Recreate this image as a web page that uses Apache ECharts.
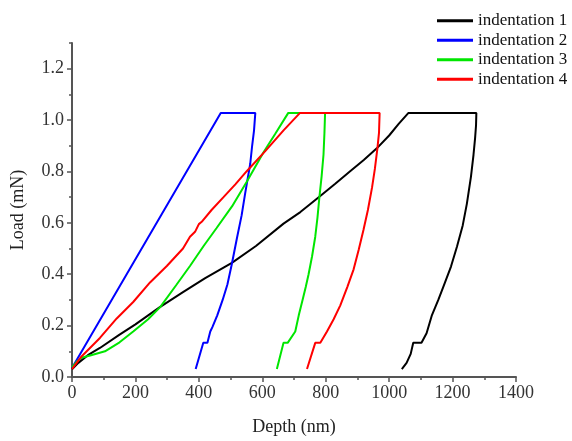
<!DOCTYPE html>
<html>
<head>
<meta charset="utf-8">
<script src="https://cdn.jsdelivr.net/npm/echarts@6/dist/echarts.min.js"></script>
<style>
html, body { margin: 0; padding: 0; background: #fff; }
#chart { width: 572px; height: 441px; }
</style>
</head>
<body>
<div id="chart"></div>
<script>
// depth (nm), load (mN)
var names = ['indentation 1', 'indentation 2', 'indentation 3', 'indentation 4']
var colors = ['#000000', '#0000ff', '#00e600', '#ff0000']

var ind1 = [[0,0.03],[20,0.055],[50,0.085],[88,0.113],[150,0.165],[200,0.205],[277,0.272],[350,0.33],[420,0.385],
  [504,0.444],[580,0.51],[667,0.597],[720,0.642],[777,0.699],[830,0.752],[877,0.801],[920,0.845],[961,0.89],
  [1000,0.94],[1030,0.985],[1061,1.028],[1275,1.028],[1274,0.98],[1271,0.93],[1266,0.865],[1258,0.78],
  [1245,0.674],[1232,0.59],[1214,0.508],[1195,0.43],[1172,0.355],[1155,0.3],[1135,0.241],[1118,0.17],
  [1102,0.133],[1076,0.133],[1068,0.09],[1055,0.055],[1040,0.031]]
var ind2 = [[0,0.035],[469,1.028],[578,1.028],[574,0.96],[568,0.9],[562,0.83],[546,0.715],[535,0.63],
  [520,0.54],[504,0.44],[490,0.36],[475,0.3],[458,0.24],[443,0.195],[436,0.177],[427,0.133],[414,0.133],
  [390,0.031]]
var ind3 = [[0,0.037],[15,0.06],[30,0.075],[60,0.085],[104,0.1],[150,0.135],[193,0.177],[240,0.225],
  [278,0.272],[330,0.36],[372,0.432],[415,0.51],[456,0.58],[505,0.665],[551,0.76],[604,0.875],[640,0.945],
  [682,1.028],[798,1.028],[796,0.95],[793,0.865],[787,0.78],[780,0.699],[774,0.62],[767,0.546],
  [757,0.47],[746,0.4],[737,0.35],[727,0.3],[715,0.24],[704,0.177],[680,0.133],[667,0.133],[646,0.031]]
var ind4 = [[0,0.031],[30,0.08],[88,0.152],[141,0.228],[193,0.292],[246,0.368],[299,0.432],[350,0.5],
  [372,0.546],[388,0.565],[400,0.595],[409,0.604],[440,0.65],[477,0.699],[515,0.75],[551,0.801],[610,0.88],
  [667,0.96],[719,1.028],[970,1.028],[968,0.95],[963,0.89],[955,0.81],[946,0.737],[933,0.65],[919,0.572],
  [904,0.495],[888,0.419],[868,0.35],[846,0.279],[825,0.225],[804,0.177],[783,0.133],[767,0.133],[741,0.031]]

var yTicks = [0, 0.2, 0.4, 0.6, 0.8, 1.0, 1.2]
var yMinor = [0.1, 0.3, 0.5, 0.7, 0.9, 1.1, 1.3]

var font = "'Liberation Serif', 'Times New Roman', serif"
var axisColor = '#555'

var chart = echarts.init(document.getElementById('chart'))
var allData = [ind1, ind2, ind3, ind4]

var option = {
  backgroundColor: '#fff',
  animation: false,
  grid: { left: 72, right: 56, top: 43, bottom: 58 },
  legend: {
    orient: 'vertical',
    left: 437,
    top: 11,
    padding: 0,
    itemWidth: 36,
    itemHeight: 3,
    itemGap: 0,
    icon: 'rect',
    textStyle: { fontFamily: font, fontSize: 17, color: '#111', lineHeight: 19.5 },
    data: names
  },
  xAxis: {
    type: 'value',
    min: 0,
    max: 1400,
    interval: 200,
    name: 'Depth (nm)',
    nameLocation: 'middle',
    nameGap: 41,
    nameTextStyle: { fontFamily: font, fontSize: 18, color: '#222' },
    axisLine: { lineStyle: { color: axisColor, width: 2 } },
    axisTick: { length: 5, lineStyle: { color: axisColor, width: 1.5 } },
    minorTick: { show: true, splitNumber: 2, length: 3, lineStyle: { color: axisColor, width: 1.5 } },
    axisLabel: {
      fontFamily: font, fontSize: 18, color: '#333', margin: 7,
      formatter: function (v) { return String(v) }
    },
    splitLine: { show: false }
  },
  yAxis: [{
    type: 'value',
    min: 0,
    max: 1.3,
    interval: 0.1,
    name: 'Load (mN)',
    nameLocation: 'middle',
    nameGap: 45,
    nameTextStyle: { fontFamily: font, fontSize: 18, color: '#222' },
    axisLine: { show: true, lineStyle: { color: axisColor, width: 2 } },
    axisTick: { show: true, customValues: yTicks, length: 5, lineStyle: { color: axisColor, width: 1.5 } },
    axisLabel: {
      customValues: yTicks,
      fontFamily: font, fontSize: 18, color: '#333', margin: 8,
      formatter: function (v) { return v.toFixed(1) }
    },
    splitLine: { show: false }
  }, {
    type: 'value',
    min: 0,
    max: 1.3,
    interval: 0.1,
    position: 'left',
    axisLine: { show: false },
    axisTick: { show: true, customValues: yMinor, length: 3, lineStyle: { color: axisColor, width: 1.5 } },
    axisLabel: { show: false },
    splitLine: { show: false }
  }],
  series: names.map(function (n, i) {
    return {
      name: n,
      type: 'line',
      data: allData[i],
      showSymbol: false,
      color: colors[i],
      lineStyle: { width: 2, color: colors[i] }
    }
  })
}
chart.setOption(option)
</script>
</body>
</html>
